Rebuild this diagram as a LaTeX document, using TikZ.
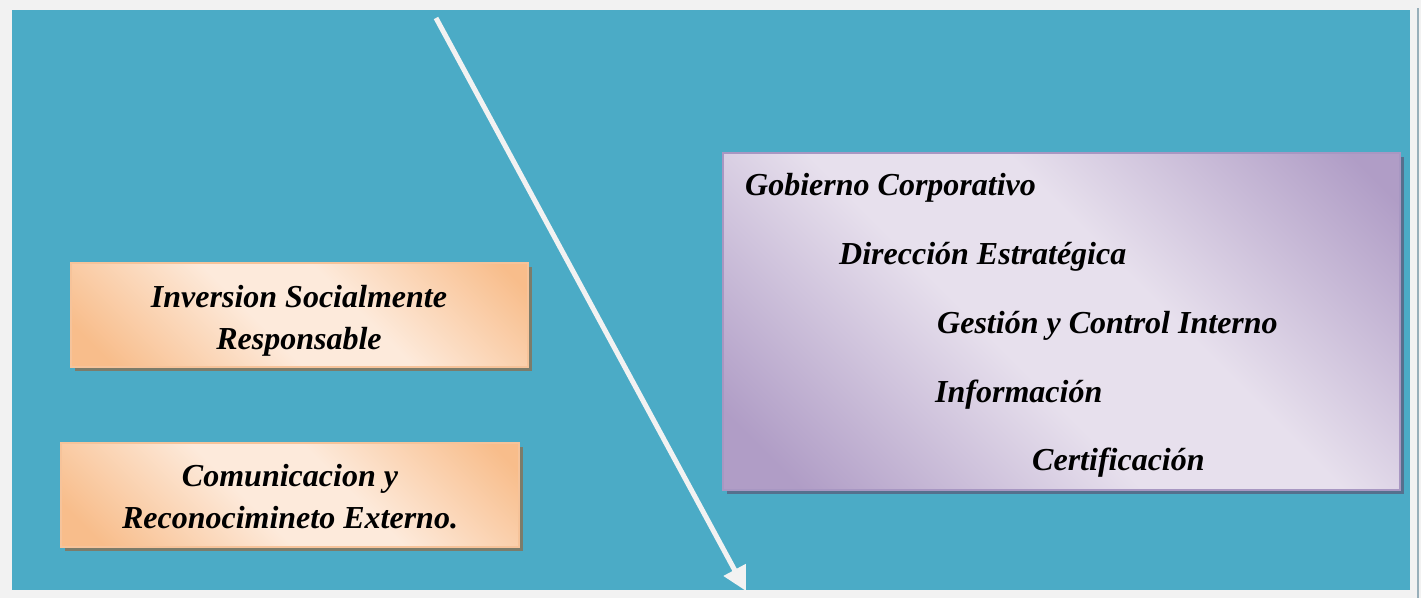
\documentclass[tikz,border=0pt]{standalone}
\usepackage{fontspec}
\setmainfont{Liberation Serif}
\usetikzlibrary{arrows.meta,shadows}
\definecolor{pagegray}{HTML}{F2F2F2}
\definecolor{teal}{HTML}{4BABC6}
\definecolor{edgegray}{HTML}{98AFBA}
\definecolor{orD}{HTML}{F8BD8B}
\definecolor{orL}{HTML}{FDEADB}
\definecolor{orEdge}{HTML}{F6C39A}
\definecolor{orShadow}{HTML}{7C7C6A}
\definecolor{puD}{HTML}{B09DC6}
\definecolor{puL}{HTML}{E7E0ED}
\definecolor{puEdge}{HTML}{A897C2}
\definecolor{puShadow}{HTML}{55708E}
\pgfdeclarehorizontalshading{orangeband}{100bp}{color(0bp)=(orD); color(20bp)=(orD); color(44bp)=(orL); color(58bp)=(orL); color(82bp)=(orD); color(100bp)=(orD)}
\pgfdeclarehorizontalshading{purpleband}{100bp}{color(0bp)=(puD); color(20bp)=(puD); color(44bp)=(puL); color(58bp)=(puL); color(82bp)=(puD); color(100bp)=(puD)}
\tikzset{
  boxtext/.style={font=\fontsize{32}{42}\selectfont\bfseries\itshape, text=black},
  orbox/.style={draw=orEdge, line width=1.5pt, shading=orangeband, shading angle=45,
    minimum height=104pt, inner sep=0pt, outer sep=0pt,
    drop shadow={shadow xshift=4pt, shadow yshift=-4pt, fill=orShadow, opacity=1}},
  ortext/.style={boxtext, align=center, inner sep=0pt},
  pubox/.style={draw=puEdge, line width=1.5pt, shading=purpleband, shading angle=45,
    minimum width=677pt, minimum height=337pt, inner sep=0pt, outer sep=0pt,
    drop shadow={shadow xshift=4pt, shadow yshift=-4pt, fill=puShadow, opacity=1}},
  putext/.style={boxtext, anchor=base west, inner sep=0pt},
  bigarrow/.style={draw=pagegray, line width=5pt, -{Triangle[width=24pt,length=24pt]}}
}
\begin{document}
\begin{tikzpicture}[x=1pt,y=-1pt]
\useasboundingbox (0,0) rectangle (1421,598);
\fill[pagegray] (0,0) rectangle (1421,598);
\fill[teal] (12,10) rectangle (1410,590);
\draw[edgegray, line width=2pt] (1418,8) -- (1418,598);
\node[orbox, minimum width=457pt] (isr) at (299.5,315) {};
\node[ortext, anchor=base] (isrt) at (299,349) {Inversion Socialmente\\Responsable};
\node[orbox, minimum width=458pt] (cre) at (290,495) {};
\node[ortext, anchor=base] (cret) at (290,528) {Comunicacion y\\Reconocimineto Externo.};
\node[pubox] (gc) at (1061.5,321.5) {};
\node[putext] (t1) at (745,195) {Gobierno Corporativo};
\node[putext] (t2) at (839,264) {Dirección Estratégica};
\node[putext] (t3) at (937,333) {Gestión y Control Interno};
\node[putext] (t4) at (935,402) {Información};
\node[putext] (t5) at (1032,470) {Certificación};
\coordinate (a0) at (436,18);
\coordinate (a1) at (746,591);
\draw[bigarrow] (a0) -- (a1);
\end{tikzpicture}
\end{document}
